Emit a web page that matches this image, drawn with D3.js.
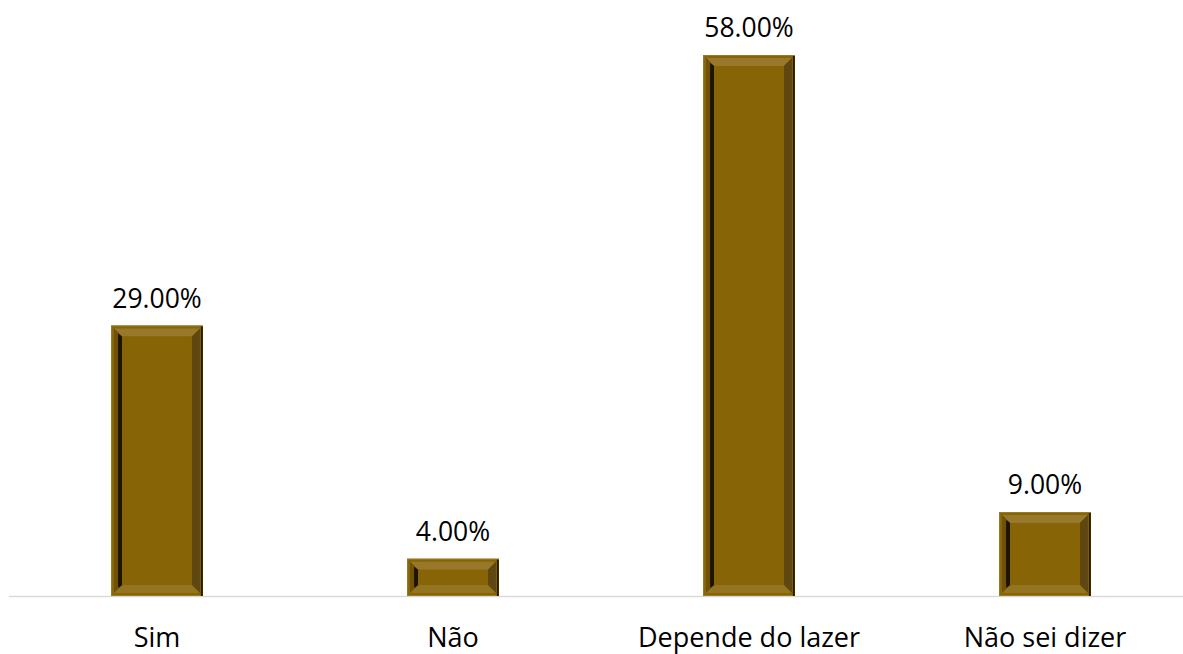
<!DOCTYPE html>
<html><head><meta charset="utf-8">
<script src="https://cdn.jsdelivr.net/npm/d3@7"></script>
<style>body{margin:0;background:#fff}svg{display:block}</style>
</head><body>
<svg id="c" width="1183" height="654"></svg>
<script>
const categories = ["Sim", "Não", "Depende do lazer", "Não sei dizer"];
const values = [29, 4, 58, 9];
const valueLabels = ["29.00%", "4.00%", "58.00%", "9.00%"];

const svg = d3.select("#c");
const x = d3.scaleBand().domain(categories).range([9, 1193]).paddingInner(0.69).paddingOuter(0.345);
const y = d3.scaleLinear().domain([0, 58]).range([596, 55]);
const font = "'Open Sans', sans-serif";

svg.append("line").attr("x1", 9).attr("x2", 1183).attr("y1", 596.5).attr("y2", 596.5)
  .attr("stroke", "#d9d9d9").attr("stroke-width", 1.5);

const g = svg.selectAll("g.bar").data(categories.map((c, i) => ({c, v: values[i], l: valueLabels[i]})))
  .enter().append("g").attr("class", "bar");

g.each(function(d) {
  const s = d3.select(this);
  const x0 = x(d.c), x1 = x0 + x.bandwidth();
  const y0 = y(d.v), y1 = y(0);
  const ins = Math.min(11, (y1 - y0) / 3);
  const o = 3;
  const poly = pts => pts.map(p => p.join(",")).join(" ");
  s.append("rect").attr("x", x0).attr("y", y0).attr("width", x1 - x0).attr("height", y1 - y0).attr("fill", "#876507");
  s.append("rect").attr("x", x0 + 0.5).attr("y", y0 + 0.5).attr("width", x1 - x0 - 1).attr("height", y1 - y0 - 1)
    .attr("fill", "none").attr("stroke", "#9a7a24").attr("stroke-width", 1);
  s.append("line").attr("x1", x1 - 1).attr("x2", x1 - 1).attr("y1", y0 + 1).attr("y2", y1)
    .attr("stroke", "#2a1e02").attr("stroke-width", 2);
  const ax0 = x0 + o, ax1 = x1 - o, ay0 = y0 + o, ay1 = y1 - o;
  const bx0 = x0 + ins, bx1 = x1 - ins, by0 = y0 + ins, by1 = y1 - ins;
  s.append("polygon").attr("points", poly([[ax0, ay0], [ax1, ay0], [bx1, by0], [bx0, by0]])).attr("fill", "#98792c");
  s.append("polygon").attr("points", poly([[ax0, ay0], [bx0, by0], [bx0, by1], [ax0, ay1]])).attr("fill", "#6e5209");
  s.append("polygon").attr("points", poly([[ax1, ay0], [ax1, ay1], [bx1, by1], [bx1, by0]])).attr("fill", "#5e4710");
  s.append("polygon").attr("points", poly([[ax0, ay1], [ax1, ay1], [bx1, by1], [bx0, by1]])).attr("fill", "#937420");
  s.append("polygon").attr("points", poly([[bx0 - 4, by0 - 3], [bx0, by0], [bx0, by1], [bx0 - 4, by1 + 3]])).attr("fill", "#1c1400");
  s.append("rect").attr("x", bx0).attr("y", by0).attr("width", bx1 - bx0).attr("height", by1 - by0).attr("fill", "#876507");
  s.append("text").attr("x", (x0 + x1) / 2).attr("y", y0 - 18).attr("text-anchor", "middle")
    .attr("font-family", font).attr("font-size", 26.5).attr("fill", "#000").text(d.l);
  s.append("text").attr("x", (x0 + x1) / 2).attr("y", 647).attr("text-anchor", "middle")
    .attr("font-family", font).attr("font-size", 27).attr("fill", "#000").text(d.c);
});
</script>
</body></html>
